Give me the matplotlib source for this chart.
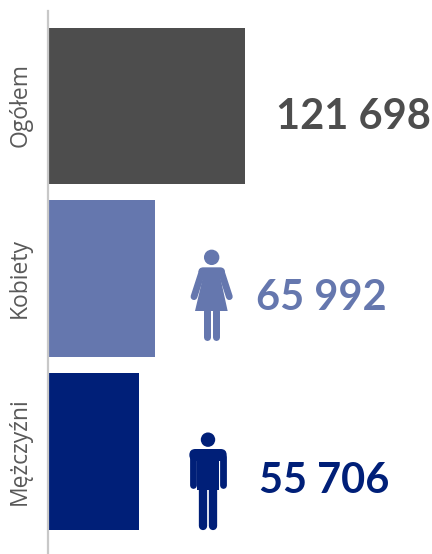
import matplotlib
matplotlib.use("Agg")
import matplotlib.pyplot as plt
from matplotlib.patches import Circle, Polygon, FancyBboxPatch

categories = ["Ogółem", "Kobiety", "Mężczyźni"]
values = [121698, 65992, 55706]
value_labels = ["121 698", "65 992", "55 706"]
colors = ["#4d4d4d", "#6577ae", "#001f78"]
label_px = [276, 256, 259]
label_dy_px = [12, 20, 30]

W, H = 432, 554
fig = plt.figure(figsize=(W / 100, H / 100), dpi=100, facecolor="white")

# main axes: left spine at x=48 px, from y=11 to y=554
ax = fig.add_axes([48 / W, 0, (W - 48) / W, (H - 11) / H])
px_per_val = 195.5 / values[0]
ax.set_xlim(0, (W - 48) / px_per_val)
step = 173.0
ax.set_ylim((554 - 451.5) / step + 2, -(105.5 - 11) / step)
ax.barh(range(3), values, height=156 / step, color=colors, left=values[0] * 0.006)
for s in ["top", "right", "bottom"]:
    ax.spines[s].set_visible(False)
ax.spines["left"].set_color("#c8c8c8")
ax.spines["left"].set_linewidth(1.6)
ax.set_xticks([])
ax.set_yticks(range(3))
ax.set_yticklabels(categories, rotation=90, va="center", ha="center",
                   family="Open Sans", fontsize=16.5, color="#595959")
ax.tick_params(axis="y", length=0, pad=20)

for i, (lab, col) in enumerate(zip(value_labels, colors)):
    ax.annotate(lab, xy=(0, i), xycoords=("axes fraction", "data"),
                xytext=(label_px[i] - 48, -label_dy_px[i]),
                textcoords="offset pixels", va="center", ha="left",
                family="Lato", fontweight="bold", fontsize=30, color=col)

# pictogram overlay, in pixel coordinates
ov = fig.add_axes([0, 0, 1, 1])
ov.set_xlim(0, W)
ov.set_ylim(H, 0)
ov.axis("off")
ov.patch.set_alpha(0)

def Z(x, y, x0, y0):
    return (x0 + x / 3, y0 + y / 3)

def stroke(p, q, wpx, col):
    ov.plot([p[0], q[0]], [p[1], q[1]], color=col, lw=wpx * 0.72, solid_capstyle="round")

# woman
c = colors[1]
z = lambda x, y: Z(x, y, 180, 240)
ov.add_patch(Circle(z(95, 52), 7.7, color=c, lw=0))
ov.add_patch(Polygon([z(74, 90), z(116, 90), z(143, 213), z(45, 213)], color=c, lw=0))
stroke(z(66, 96), z(42, 170), 6.8, c)
stroke(z(124, 96), z(148, 170), 6.8, c)
ov.add_patch(FancyBboxPatch(z(55, 82), 80 / 3, 24 / 3, boxstyle="round,pad=0,rounding_size=5", color=c, lw=0))
stroke(z(81, 213), z(81, 292), 7, c)
stroke(z(108, 213), z(108, 292), 7, c)

# man
c = colors[2]
z = lambda x, y: Z(x, y, 180, 425)
ov.add_patch(Circle(z(84, 44), 7.2, color=c, lw=0))
ov.add_patch(FancyBboxPatch(z(28, 72), 112 / 3, 36 / 3, boxstyle="round,pad=0,rounding_size=6", color=c, lw=0))
ov.add_patch(Polygon([z(52, 90), z(116, 90), z(116, 195), z(52, 195)], color=c, lw=0))
stroke(z(38, 95), z(38, 181), 6.8, c)
stroke(z(130, 95), z(130, 181), 6.8, c)
stroke(z(68, 190), z(68, 303), 8.3, c)
stroke(z(100, 190), z(100, 303), 8.3, c)

fig.savefig("out.png", dpi=100, facecolor="white")
